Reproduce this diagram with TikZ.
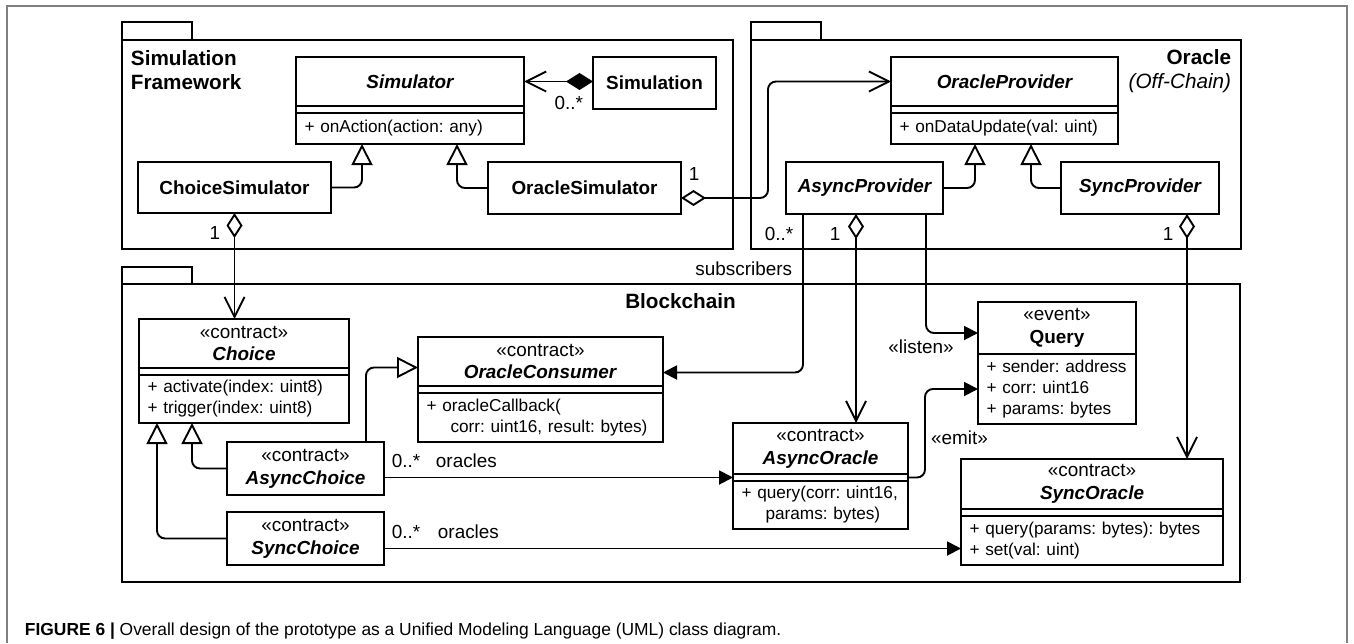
\documentclass[tikz,border=0pt]{standalone}
\usepackage{fontspec}
\setmainfont{Liberation Sans}
\usetikzlibrary{arrows.meta,positioning}
\newcommand\namefont{\fontsize{18.9}{22.7}\selectfont}
\newcommand\memberfont{\fontsize{17.2}{21}\selectfont}
\newcommand\pkgfont{\fontsize{20.7}{24}\selectfont}
\newcommand\capfont{\fontsize{17.4}{20}\selectfont}

\begin{document}
\frenchspacing
\begin{tikzpicture}[
x=1pt, y=-1pt,
line width=1.9pt,
font=\namefont,
pkg/.style={draw, inner sep=0pt, outer sep=0pt},
cname/.style={draw, align=center, inner sep=0pt, outer sep=0pt, font=\namefont},
cattr/.style={draw, inner sep=0pt, outer sep=0pt, minimum height=7pt},
cmember/.style={draw, align=left, inner xsep=8.5pt, inner ysep=0pt, outer sep=0pt, font=\memberfont},
lbl/.style={inner sep=0pt, font=\namefont},
pkglbl/.style={inner sep=0pt, font=\pkgfont},
inherit/.style={-{Triangle[open, length=21pt, width=21pt]}, rounded corners=8pt},
assoc/.style={-{Triangle[length=14pt, width=14pt]}, rounded corners=8pt},
agg/.style={{Diamond[open, length=25pt, width=16pt]}-{Straight Barb[length=20pt, width=20pt]}, rounded corners=8pt},
compose/.style={{Diamond[length=27pt, width=17pt]}-{Straight Barb[length=20pt, width=20pt]}}
]
\useasboundingbox (0,0) rectangle (1354,643);
\draw[black!50, line width=1.2pt] (7,643) -- (7,6) -- (1347,6) -- (1347,643);

% packages
\node[pkg, anchor=north west, minimum width=611pt, minimum height=209pt] (simpkg) at (122,40) {};
\node[pkg, anchor=south west, minimum width=70pt, minimum height=18pt] (simtab) at (simpkg.north west) {};
\node[pkglbl, anchor=north west, align=left, font=\pkgfont\bfseries] (simlbl) at (130,50) {Simulation\\Framework};
\node[pkg, anchor=north west, minimum width=490pt, minimum height=209pt] (oraclepkg) at (751,40) {};
\node[pkg, anchor=south west, minimum width=70pt, minimum height=18pt] (oracletab) at (oraclepkg.north west) {};
\node[pkglbl, anchor=north east, align=right] (oraclelbl) at (1232,49) {\textbf{Oracle}\\\textit{(Off-Chain)}};
\node[pkg, anchor=north west, minimum width=1118pt, minimum height=298pt] (chainpkg) at (122,284) {};
\node[pkg, anchor=south west, minimum width=70pt, minimum height=17pt] (chaintab) at (chainpkg.north west) {};
\node[pkglbl, anchor=base, font=\pkgfont\bfseries] (chainlbl) at (680.5,308.3) {Blockchain};

% simulation framework
\node[cname, anchor=north west, minimum width=228pt, minimum height=49pt, font=\namefont\bfseries\itshape] (simulatorname) at (296,57) {Simulator};
\node[cattr, below=0pt of simulatorname, minimum width=228pt] (simulatorattr) {};
\node[cmember, below=0pt of simulatorattr, text width=211pt, minimum height=31pt] (simulatormeth) {+ onAction(action: any)};
\node[cname, anchor=north west, minimum width=123pt, minimum height=52pt, font=\namefont\bfseries] (simulation) at (593,57) {Simulation};
\node[cname, anchor=north west, minimum width=193pt, minimum height=51pt, font=\namefont\bfseries] (choicesim) at (138,162) {ChoiceSimulator};
\node[cname, anchor=north west, minimum width=193pt, minimum height=52pt, font=\namefont\bfseries] (oraclesim) at (488,162) {OracleSimulator};

% oracle (off-chain)
\node[cname, anchor=north west, minimum width=227pt, minimum height=49pt, font=\namefont\bfseries\itshape] (providername) at (891,57) {OracleProvider};
\node[cattr, below=0pt of providername, minimum width=227pt] (providerattr) {};
\node[cmember, below=0pt of providerattr, text width=210pt, minimum height=31pt] (providermeth) {+ onDataUpdate(val: uint)};
\node[cname, anchor=north west, minimum width=157pt, minimum height=52pt, font=\namefont\bfseries\itshape] (asyncprov) at (786,162) {AsyncProvider};
\node[cname, anchor=north west, minimum width=158pt, minimum height=52pt, font=\namefont\bfseries\itshape] (syncprov) at (1061,162) {SyncProvider};

% blockchain
\node[cname, anchor=north west, minimum width=210pt, minimum height=49pt] (choicename) at (139,319) {«contract»\\\textbf{\textit{Choice}}};
\node[cattr, below=0pt of choicename, minimum width=210pt] (choiceattr) {};
\node[cmember, below=0pt of choiceattr, text width=193pt, minimum height=48pt] (choicemeth) {+ activate(index: uint8)\\+ trigger(index: uint8)};
\node[cname, anchor=north west, minimum width=245pt, minimum height=49pt] (consumername) at (418,337) {«contract»\\\textbf{\textit{OracleConsumer}}};
\node[cattr, below=0pt of consumername, minimum width=245pt] (consumerattr) {};
\node[cmember, below=0pt of consumerattr, text width=228pt, minimum height=49pt] (consumermeth) {+ oracleCallback(\\\hspace*{24pt}corr: uint16, result: bytes)};
\node[cname, anchor=north west, minimum width=157pt, minimum height=53pt] (asyncchoice) at (227,442) {«contract»\\\textbf{\textit{AsyncChoice}}};
\node[cname, anchor=north west, minimum width=157pt, minimum height=53pt] (syncchoice) at (227,512) {«contract»\\\textbf{\textit{SyncChoice}}};
\node[cname, anchor=north west, minimum width=175pt, minimum height=51pt] (aoraclename) at (733,423) {«contract»\\\textbf{\textit{AsyncOracle}}};
\node[cattr, below=0pt of aoraclename, minimum width=175pt] (aoracleattr) {};
\node[cmember, below=0pt of aoracleattr, text width=158pt, minimum height=48pt] (aoraclemeth) {+ query(corr: uint16,\\\hspace*{24pt}params: bytes)};
\node[cname, anchor=north west, minimum width=158pt, minimum height=52pt] (queryname) at (978,302) {«event»\\\textbf{Query}};
\node[cmember, below=0pt of queryname, text width=141pt, minimum height=70pt] (queryattrs) {+ sender: address\\+ corr: uint16\\+ params: bytes};
\node[cname, anchor=north west, minimum width=262pt, minimum height=50pt] (soraclename) at (961,459) {«contract»\\\textbf{\textit{SyncOracle}}};
\node[cattr, below=0pt of soraclename, minimum width=262pt] (soracleattr) {};
\node[cmember, below=0pt of soracleattr, text width=245pt, minimum height=49pt] (soraclemeth) {+ query(params: bytes): bytes\\+ set(val: uint)};

% connectors
\draw[compose] (simulatorname.east -| simulation.west) -- (simulatorname.east);
\draw[inherit] (choicesim.east) -| ([xshift=66pt]simulatormeth.south west);
\draw[inherit] (oraclesim.west) -| ([xshift=-67pt]simulatormeth.south east);
\draw[agg] ([yshift=-10pt]oraclesim.east) -- ++(87,0) |- (providername.west);
\draw[inherit] (asyncprov.east) -| ([xshift=84pt]providermeth.south west);
\draw[inherit] (syncprov.west) -| ([xshift=140pt]providermeth.south west);
\draw[agg] (choicesim.south) -- (choicesim.south |- choicename.north);
\coordinate (subin) at ([yshift=-11pt]consumername.east);
\draw[assoc] ([xshift=17pt]asyncprov.south west) |- (subin);
\coordinate (aoin) at ([xshift=70pt]asyncprov.south west);
\draw[agg] (aoin) -- (aoin |- aoraclename.north);
\draw[assoc] ([xshift=-17pt]asyncprov.south east) |- ([yshift=-5pt]queryname.west);
\draw[assoc] (aoracleattr.east) -- ++(17,0) |- (queryattrs.west);
\coordinate (spout) at ([xshift=-32pt]syncprov.south east);
\draw[agg] (spout) -- (spout |- soraclename.north);
\draw[assoc] (aoracleattr.west -| asyncchoice.east) -- (aoracleattr.west);
\coordinate (soin) at ([yshift=-8pt]soraclemeth.west);
\draw[assoc] (soin -| syncchoice.east) -- (soin);
\draw[inherit] (asyncchoice.west) -| ([xshift=53pt]choicemeth.south west);
\draw[inherit] (syncchoice.west) -| ([xshift=18pt]choicemeth.south west);
\draw[inherit] ([xshift=-18pt]asyncchoice.north east) |- ([yshift=-6pt]consumername.west);

% labels
\node[lbl, anchor=base] (simmult) at (568.7,109.3) {0..*};
\node[lbl, anchor=base] (osmult) at (694,180) {1};
\node[lbl, anchor=base] (csmult) at (215,239) {1};
\node[lbl, anchor=base] (submult) at (779,240) {0..*};
\node[lbl, anchor=base] (apmult) at (835,240) {1};
\node[lbl, anchor=base] (spmult) at (1168,240) {1};
\node[lbl, anchor=base east] (sublbl) at (793,275) {subscribers};
\node[lbl, anchor=base] (listenlbl) at (921,353) {«listen»};
\node[lbl, anchor=base] (emitlbl) at (959.5,444) {«emit»};
\node[lbl, anchor=base west] (acmult) at (391,467) {0..*};
\node[lbl, anchor=base west] (aclbl) at (435,467) {oracles};
\node[lbl, anchor=base west] (scmult) at (391,538) {0..*};
\node[lbl, anchor=base west] (sclbl) at (437,538) {oracles};

\node[anchor=base west, inner sep=0pt, font=\capfont] (caption) at (24,635) {\textbf{FIGURE 6 |} Overall design of the prototype as a Unified Modeling Language (UML) class diagram.};
\end{tikzpicture}
\end{document}
